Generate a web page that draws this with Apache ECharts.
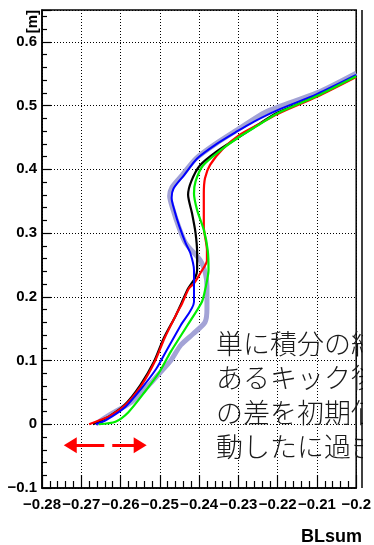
<!DOCTYPE html>
<html><head><meta charset="utf-8">
<script src="https://cdn.jsdelivr.net/npm/echarts@6/dist/echarts.min.js"></script>
<style>html,body{margin:0;padding:0;background:#fff}#c{width:374px;height:545px}</style>
</head><body><div id="c"></div>
<script>
// [BLsum, position(m)]
var blackCurve = [[-0.2670,0.0],[-0.263,0.012],[-0.259,0.030],[-0.255,0.061],[-0.2515,0.098],[-0.249,0.135],[-0.2460,0.170],[-0.2445,0.190],[-0.2428,0.213],[-0.2410,0.230],[-0.2405,0.242],[-0.2405,0.268],[-0.2409,0.300],[-0.2418,0.331],[-0.2428,0.360],[-0.2420,0.381],[-0.2398,0.406],[-0.2355,0.428],[-0.2305,0.448],[-0.2250,0.470],[-0.2200,0.489],[-0.2100,0.515],[-0.2000,0.546]];
var redCurve = [[-0.2680,0.0],[-0.2655,0.006],[-0.263,0.012],[-0.2588,0.030],[-0.2547,0.061],[-0.2513,0.098],[-0.2488,0.135],[-0.2455,0.176],[-0.2443,0.190],[-0.2426,0.213],[-0.2413,0.221],[-0.2397,0.237],[-0.2380,0.257],[-0.2380,0.273],[-0.2388,0.310],[-0.2388,0.362],[-0.2385,0.386],[-0.2372,0.407],[-0.2338,0.433],[-0.2297,0.454],[-0.2250,0.470],[-0.2200,0.487],[-0.2100,0.514],[-0.2000,0.545]];
var greenCurve = [[-0.2655,0.0],[-0.2613,0.004],[-0.2580,0.019],[-0.2538,0.051],[-0.2501,0.082],[-0.2472,0.114],[-0.2430,0.155],[-0.2393,0.192],[-0.2384,0.213],[-0.2376,0.242],[-0.2378,0.273],[-0.2388,0.305],[-0.2405,0.336],[-0.2413,0.362],[-0.2409,0.381],[-0.2390,0.406],[-0.2345,0.430],[-0.2300,0.450],[-0.2250,0.469],[-0.2200,0.488],[-0.2100,0.515],[-0.2000,0.546]];
var blueCurve = [[-0.2663,0.0],[-0.2638,0.006],[-0.2588,0.027],[-0.2547,0.056],[-0.2509,0.087],[-0.2480,0.119],[-0.2447,0.155],[-0.2413,0.192],[-0.2413,0.213],[-0.2413,0.242],[-0.2422,0.268],[-0.2434,0.284],[-0.2450,0.310],[-0.2463,0.336],[-0.2470,0.355],[-0.2465,0.370],[-0.2438,0.391],[-0.2405,0.417],[-0.2355,0.440],[-0.2305,0.459],[-0.2260,0.475],[-0.2200,0.493],[-0.2100,0.518],[-0.2000,0.548]];
var lavenderCurve = [[-0.2663,0.0],[-0.2655,0.004],[-0.2630,0.014],[-0.2572,0.035],[-0.2530,0.060],[-0.2505,0.077],[-0.2472,0.100],[-0.2447,0.124],[-0.2415,0.142],[-0.2385,0.160],[-0.2380,0.182],[-0.2380,0.216],[-0.2384,0.237],[-0.2397,0.257],[-0.2434,0.284],[-0.2452,0.310],[-0.2466,0.336],[-0.2475,0.358],[-0.2469,0.372],[-0.2443,0.391],[-0.2408,0.417],[-0.2358,0.440],[-0.2305,0.461],[-0.2230,0.490],[-0.2100,0.520],[-0.2000,0.551]];
var arrowStart = [-0.2728, -0.033];
var arrowEnd = [-0.2550, -0.033];
var noteLines = ['単に積分の結果', 'あるキック後の', 'の差を初期値', '動したに過ぎない'];
var xTitle = 'BLsum';
var yTitle = '[m]';

function mkFmt(step){
  return function(v){
    var r = Math.round(v / step);
    if (Math.abs(v / step - r) > 1e-6) return '';
    var s = String(Number(v.toFixed(3)));
    return s.replace('-', '\u2212');
  };
}
var chart = echarts.init(document.getElementById('c'));
function line(data, color, width){
  return {type:'line', data:data, showSymbol:false, symbol:'none', smooth:0.25,
    lineStyle:{color:color, width:width}, itemStyle:{color:color}, animation:false};
}
var lab = {fontFamily:'Liberation Sans', fontWeight:'bold', fontSize:15, color:'#000'};
chart.setOption({
  animation:false,
  grid:{left:42, right:12, top:10, bottom:57, show:true, borderColor:'#000', borderWidth:1.5, backgroundColor:'transparent'},
  xAxis:{type:'value', min:-0.28, max:-0.2, interval:0.01,
    axisLine:{show:true, onZero:false, lineStyle:{color:'#000', width:1.5}},
    axisTick:{show:true, inside:true, length:13, lineStyle:{color:'#000', width:1.2}},
    minorTick:{show:true, splitNumber:5, length:7, lineStyle:{color:'#000', width:1.2}},
    splitLine:{show:true, lineStyle:{color:'#000', width:1, type:[1,2]}},
    axisLabel:Object.assign({margin:9, interval:0, formatter:mkFmt(0.01), showMinLabel:true, showMaxLabel:true}, lab)
  },
  yAxis:{type:'value', min:-0.1, max:0.65, interval:0.1,
    axisLine:{show:true, onZero:false, lineStyle:{color:'#000', width:1.5}},
    axisTick:{show:true, inside:true, length:9, lineStyle:{color:'#000', width:1.2}},
    minorTick:{show:true, splitNumber:5, length:5, lineStyle:{color:'#000', width:1.2}},
    splitLine:{show:true, lineStyle:{color:'#000', width:1, type:[1,2]}},
    axisLabel:Object.assign({margin:5, formatter:mkFmt(0.1)}, lab)
  },
  series:[
    line(lavenderCurve, '#a3a3d6', 5),
    line(blackCurve, '#000000', 2.2),
    line(redCurve, '#ff0000', 2.2),
    line(blueCurve, '#0000ff', 2),
    line(greenCurve, '#00ee00', 2.2),
    {type:'line', data:[], markLine:{silent:true, symbol:['triangle','triangle'], symbolSize:[16,13],
      label:{show:false}, lineStyle:{color:'#ff0000', width:3, type:[34,8]},
      data:[[{coord:arrowStart},{coord:arrowEnd}]]}}
  ],
  graphic:[
    {type:'text', z:90, left:216, top:326, style:{text:noteLines.join('\n'), fontFamily:'Noto Sans CJK JP', fontWeight:300, fontSize:27, lineHeight:34.5, fill:'#1a1a1a'}},
    {type:'rect', z:95, shape:{x:363, y:300, width:12, height:180}, style:{fill:'#fff'}},
    {type:'line', z:96, shape:{x1:362, y1:10, x2:362, y2:488}, style:{stroke:'#000', lineWidth:1.5}},
    {type:'text', z:96, x:33, y:10, rotation:Math.PI/2, style:{text:yTitle, fontFamily:'Liberation Sans', fontWeight:'bold', fontSize:15, fill:'#000', align:'right', verticalAlign:'middle'}},
    {type:'text', z:96, x:362, y:537, style:{text:xTitle, fontFamily:'Liberation Sans', fontWeight:'bold', fontSize:18, fill:'#000', align:'right', verticalAlign:'middle'}}
  ]
});
</script></body></html>
